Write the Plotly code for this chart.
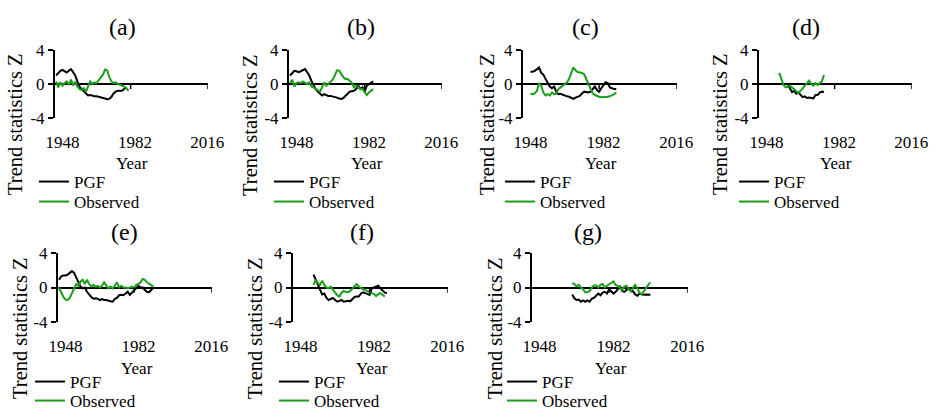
import plotly.graph_objects as go

# ---------------- data ----------------
PANEL_LABELS = ["(a)", "(b)", "(c)", "(d)", "(e)", "(f)", "(g)"]
X_TICK_LABELS = [1948, 1982, 2016]
Y_TICK_VALUES = [-4, 0, 4]
Y_TICK_LABELS = ["-4", "0", "4"]
SERIES_NAMES = ["PGF", "Observed"]

A_PGF_START = 1945
A_PGF = [1.0, 1.3, 1.55, 1.65, 1.5, 1.35, 1.55, 1.75, 1.4, 1.0, 0.3, -0.3, -0.6, -0.9, -1.1,
         -1.35, -1.3, -1.35, -1.45, -1.45, -1.5, -1.55, -1.6, -1.7, -1.8, -1.75, -1.5, -1.1,
         -0.9, -0.8, -0.8, -0.8, -0.55, -0.4]
A_OBS_START = 1945
A_OBS = [0.3, -0.4, 0.2, -0.2, 0.1, 0.3, -0.1, 0.5, -0.1, 0.2, -0.3, -0.6, -0.7, -0.5, -0.9,
         -0.3, 0.3, 0.0, 0.2, 0.1, 0.4, 0.7, 1.1, 1.7, 1.6, 0.8, 0.3, 0.1, 0.2, 0.0, -0.1,
         -0.2, -0.3, -0.5, -0.8]

B_PGF_START = 1945
B_PGF = [1.0, 1.3, 1.55, 1.5, 1.4, 1.5, 1.6, 1.75, 1.4, 1.0, 0.4, -0.2, -0.6, -0.9, -1.1,
         -1.35, -1.2, -1.3, -1.4, -1.4, -1.45, -1.5, -1.6, -1.7, -1.75, -1.65, -1.4, -1.1,
         -0.9, -0.85, -0.8, -0.6, -0.2, -0.6, -0.4, -0.9, -0.2, 0.0, 0.2, 0.3]
B_OBS_START = 1945
B_OBS = [0.1, 0.5, -0.3, 0.1, 0.2, 0.1, 0.3, 0.1, 0.0, 0.2, -0.3, -0.4, -0.6, -0.8, -0.9,
         -0.4, 0.2, -0.2, 0.0, 0.2, 0.5, 1.0, 1.6, 1.6, 1.2, 0.8, 0.6, 0.6, 0.4, 0.1, -0.4,
         -0.2, -0.4, -0.6, -0.6, -1.0, -1.3, -1.0, -0.8, -0.6]

C_PGF_START = 1948
C_PGF = [1.45, 1.45, 1.55, 1.7, 1.95, 1.3, 1.1, 0.6, 0.2, -0.3, -0.5, -0.3, -0.9, -1.2,
         -1.15, -1.25, -1.4, -1.45, -1.5, -1.6, -1.75, -1.6, -1.5, -1.4, -1.1, -0.9, -0.95,
         -1.0, -0.9, -0.6, -0.3, -0.7, -0.9, -0.5, -0.1, 0.2, 0.1, -0.4, -0.5, -0.6, -0.6]
C_OBS_START = 1948
C_OBS = [-1.15, -1.2, -1.1, -0.8, 0.1, -0.2, -1.0, -1.35, -1.2, -1.35, -1.0, -1.2, -1.15,
         -0.6, -0.4, -0.2, 0.0, 0.2, 0.6, 1.4, 1.95, 1.6, 1.4, 1.35, 1.3, 1.15, 0.6, 0.0,
         -0.6, -1.1, -1.3, -1.45, -1.5, -1.55, -1.55, -1.55, -1.5, -1.45, -1.35, -1.2, -1.0]

D_PGF_START = 1958
D_PGF = [-0.1, -0.6, -0.95, -0.8, -1.15, -1.0, -1.35, -1.55, -1.45, -1.65, -1.6, -1.65,
         -1.7, -1.3, -1.3, -1.0, -0.9, -0.95]
D_OBS_START = 1954
D_OBS = [1.3, 0.6, -0.1, -0.4, -0.3, -0.2, -0.4, -0.6, -0.9, -1.05, -0.8, -0.5, -0.1, 0.2,
         0.4, 0.0, -0.2, 0.1, -0.1, 0.1, 0.3, 1.05]

E_PGF_START = 1945
E_PGF = [0.9, 1.3, 1.4, 1.4, 1.5, 1.7, 1.9, 1.7, 1.2, 0.7, 0.1, -0.1, 0.0, -0.5, -0.85,
         -1.1, -1.3, -1.25, -1.3, -1.45, -1.35, -1.45, -1.45, -1.55, -1.6, -1.65, -1.3,
         -1.2, -0.9, -0.85, -0.9, -0.7, -0.5, -0.85, -0.6, -0.3, 0.0, 0.2, 0.0, 0.0, -0.3,
         -0.5, -0.55, -0.3, 0.0]
E_OBS_START = 1945
E_OBS = [0.0, -0.5, -1.1, -1.4, -1.45, -1.2, -0.6, 0.0, 0.4, 0.2, 0.7, 0.9, 0.4, 0.9, 0.4,
         0.1, 0.3, 0.1, 0.2, 0.0, 0.2, 0.6, 0.2, -0.1, 0.1, -0.1, 0.2, 0.6, 0.0, 0.2, 0.0,
         0.0, -0.1, 0.0, 0.1, -0.1, 0.3, 0.4, 0.6, 1.0, 0.9, 0.6, 0.4, 0.3, 0.1]

F_PGF_START = 1954
F_PGF = [1.5, 0.9, 0.4, -0.4, -0.8, -0.7, -1.2, -1.45, -1.3, -1.2, -1.45, -1.65, -1.55,
         -1.45, -1.65, -1.6, -1.55, -1.6, -1.3, -1.1, -1.05, -1.05, -0.7, -0.55, -0.65, -0.8,
         -0.85, -0.1, 0.0, 0.15, 0.2, -0.1, -0.4, -0.6, -0.65]
F_OBS_START = 1954
F_OBS = [0.3, 0.9, 0.5, 0.3, 0.8, 0.3, 0.0, -0.1, 0.1, -0.3, -0.6, -0.9, -1.05, -0.6, -0.4,
         -0.5, -0.55, -0.4, -0.1, 0.2, 0.4, 0.1, -0.1, -0.2, -0.3, -0.4, -0.55, -0.6, -0.75,
         -1.0, -0.75, -0.65, -0.85, -1.05]

G_PGF_START = 1963
G_PGF = [-0.8, -1.25, -1.45, -1.4, -1.65, -1.5, -1.65, -1.5, -1.65, -1.3, -1.2, -0.9, -0.7,
         -0.9, -0.6, -0.5, -0.7, -0.2, -0.4, -0.7, -0.5, -0.2, 0.1, -0.4, -0.5, -0.3, -0.1,
         -0.1, -0.4, -0.8, -0.95, -0.7, -0.8, -0.85, -0.8, -0.85, -0.85]
G_OBS_START = 1963
G_OBS = [0.5, 0.4, 0.15, 0.3, 0.0, -0.2, -0.55, -0.55, -0.4, 0.0, 0.2, 0.25, 0.0, 0.3, 0.4,
         0.0, 0.2, 0.4, 0.6, 0.7, 0.3, 0.2, 0.0, -0.3, 0.1, 0.2, -0.2, -0.5, 0.0, 0.3, -0.1,
         -0.6, -0.8, -0.4, -0.1, 0.3, 0.6]

PGF_SERIES = [(A_PGF_START, A_PGF), (B_PGF_START, B_PGF), (C_PGF_START, C_PGF),
              (D_PGF_START, D_PGF), (E_PGF_START, E_PGF), (F_PGF_START, F_PGF),
              (G_PGF_START, G_PGF)]
OBS_SERIES = [(A_OBS_START, A_OBS), (B_OBS_START, B_OBS), (C_OBS_START, C_OBS),
              (D_OBS_START, D_OBS), (E_OBS_START, E_OBS), (F_OBS_START, F_OBS),
              (G_OBS_START, G_OBS)]

# ---------------- layout geometry (pixels in a 936x411 page) ----------------
W, H = 936, 411
FONT = "Liberation Serif"
PGF_COLOR = "#000000"
OBS_COLOR = "#1c9e1c"

PLOT_BOXES = [(55, 208, 50, 118), (289, 442, 50, 118), (523, 677, 50, 118),
              (759, 912, 50, 118), (58, 212, 253, 322), (293, 448, 253, 322),
              (532, 688, 253, 322)]
TITLE_POS = [(122, 27), (361, 27), (585, 27), (806, 27), (124, 232), (362, 232), (588, 232)]
YTITLE_POS = [(15, 124), (250, 125), (487, 124), (720, 124), (20, 328), (255, 328), (495, 328)]
XTITLE_POS = [(132, 164), (367, 164), (601, 164), (836, 164), (137, 368), (372, 368), (611, 368)]
LEGEND_POS = [(42, 182, 202), (277, 182, 202), (508, 182, 202), (742, 182, 202),
              (38, 382, 401), (282, 382, 401), (510, 382, 401)]
X_RANGE = [1944.5, 2016.3]
AXIS_END_TICKS = [1980, 2016.3]


def px_x(v):
    return v / W


def px_y(v):
    return 1 - v / H


fig = go.Figure()
annotations = []
shapes = []
legend_count = 0

for i, label in enumerate(PANEL_LABELS):
    n = "" if i == 0 else str(i + 1)
    xa, ya = "x" + n, "y" + n
    lx, ly_pgf, ly_obs = LEGEND_POS[i]
    for (start, vals), name, color, ly in ((PGF_SERIES[i], SERIES_NAMES[0], PGF_COLOR, ly_pgf),
                                           (OBS_SERIES[i], SERIES_NAMES[1], OBS_COLOR, ly_obs)):
        legend_count += 1
        leg = "legend" if legend_count == 1 else "legend" + str(legend_count)
        years = list(range(start, start + len(vals)))
        fig.add_trace(go.Scatter(x=years, y=vals, mode="lines", name=name,
                                 line=dict(color=color, width=2),
                                 xaxis=xa, yaxis=ya, legend=leg, showlegend=True))
        fig.layout[leg] = dict(x=px_x(lx - 8), y=px_y(ly), xanchor="left", yanchor="middle",
                               xref="paper", yref="paper", orientation="v",
                               bgcolor="rgba(0,0,0,0)", borderwidth=0, tracegroupgap=0,
                               font=dict(family=FONT, size=17, color="black"))
    l, r, t, b = PLOT_BOXES[i]
    fig.layout["xaxis" + n] = dict(
        domain=[px_x(l), px_x(r)], anchor=ya, range=X_RANGE,
        showline=False, showgrid=False, zeroline=False, ticks="",
        tickmode="array", tickvals=X_TICK_LABELS,
        ticktext=[str(v) for v in X_TICK_LABELS],
        tickfont=dict(family=FONT, size=17, color="black"),
        ticklabelstandoff=12, fixedrange=True)
    fig.layout["yaxis" + n] = dict(
        domain=[px_y(b), px_y(t)], anchor=xa, range=[-4, 4],
        showline=True, linecolor="black", linewidth=2,
        showgrid=False, zeroline=True, zerolinecolor="black", zerolinewidth=2,
        ticks="outside", ticklen=5, tickwidth=2, tickcolor="black",
        tickmode="array", tickvals=Y_TICK_VALUES, ticktext=Y_TICK_LABELS,
        tickfont=dict(family=FONT, size=17, color="black"), fixedrange=True)
    for tv in AXIS_END_TICKS:
        shapes.append(dict(type="line", xref=xa, yref=ya, x0=tv, x1=tv, y0=0, y1=-0.6,
                           line=dict(color="black", width=1.5)))
    tx, ty = TITLE_POS[i]
    annotations.append(dict(text=label, x=px_x(tx), y=px_y(ty), xref="paper", yref="paper",
                            xanchor="center", yanchor="middle", showarrow=False,
                            font=dict(family=FONT, size=24, color="black")))
    yx, yy = YTITLE_POS[i]
    annotations.append(dict(text="Trend statistics Z", x=px_x(yx), y=px_y(yy), xref="paper",
                            yref="paper", xanchor="center", yanchor="middle", textangle=-90,
                            showarrow=False, font=dict(family=FONT, size=20.5, color="black")))
    xx, xy = XTITLE_POS[i]
    annotations.append(dict(text="Year", x=px_x(xx), y=px_y(xy), xref="paper", yref="paper",
                            xanchor="center", yanchor="middle", showarrow=False,
                            font=dict(family=FONT, size=17, color="black")))

fig.update_layout(width=W, height=H,
                  margin=dict(l=0, r=0, t=0, b=0, autoexpand=False),
                  paper_bgcolor="white", plot_bgcolor="white",
                  annotations=annotations, shapes=shapes, showlegend=True,
                  font=dict(family=FONT, color="black"))

fig.write_html("out.html")
